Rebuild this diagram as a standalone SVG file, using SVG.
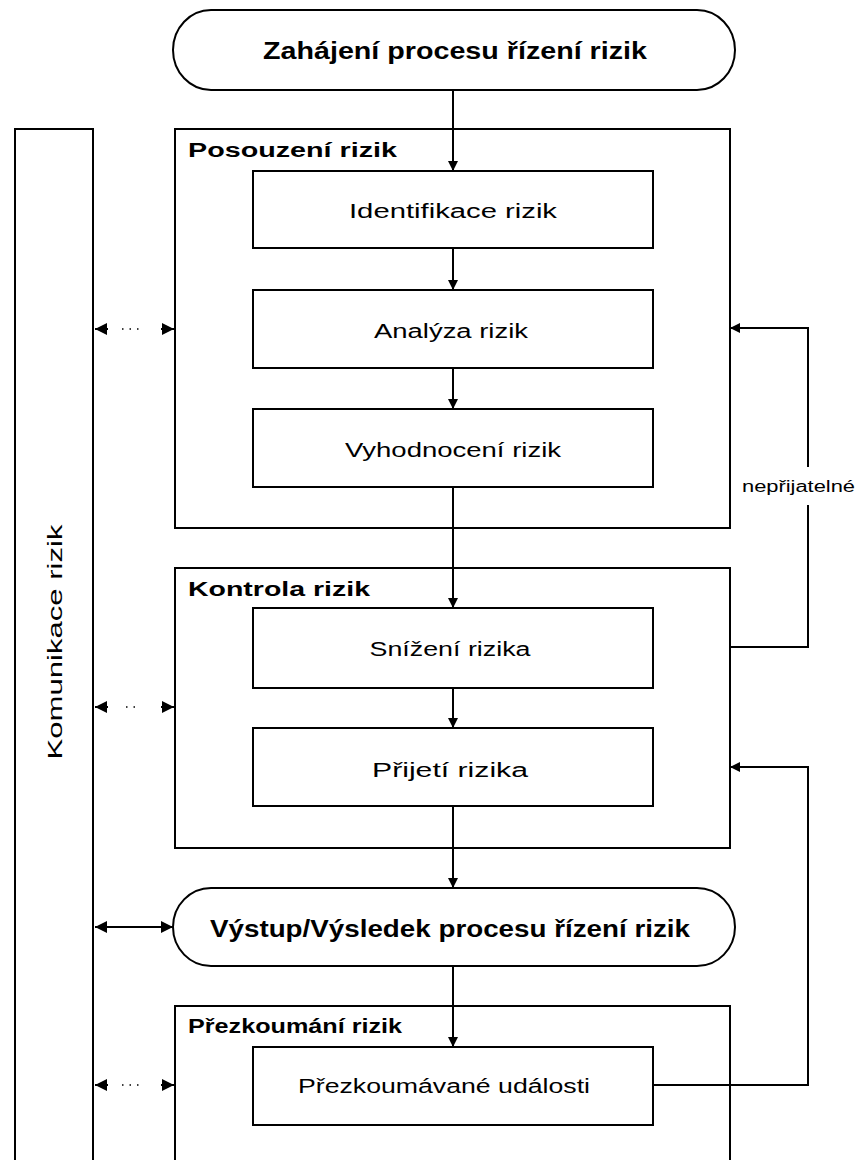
<svg xmlns="http://www.w3.org/2000/svg" width="857" height="1160" viewBox="0 0 857 1160">
  <style>
    .box { fill: #ffffff; stroke: #000000; stroke-width: 2; }
    .line { fill: none; stroke: #000000; stroke-width: 2; }
    .dots { fill: none; stroke: #000000; stroke-width: 1.5; stroke-dasharray: 1.5 6; }
    .t { font-family: "Liberation Sans", Arial, sans-serif; fill: #000000; }
    .title { font-size: 23px; font-weight: bold; text-anchor: middle; }
    .group { font-size: 20px; font-weight: bold; }
    .step { font-size: 20px; text-anchor: middle; }
    .small { font-size: 16px; }
  </style>
  <defs>
    <marker id="arrow" viewBox="0 0 10 10" refX="10" refY="5" markerWidth="10" markerHeight="10" markerUnits="userSpaceOnUse" orient="auto-start-reverse">
      <path d="M0,0 L10,5 L0,10 Z" fill="#000000"/>
    </marker>
    <marker id="arrowBig" viewBox="0 0 12 12" refX="12" refY="6" markerWidth="12" markerHeight="12" markerUnits="userSpaceOnUse" orient="auto-start-reverse">
      <path d="M0,0 L12,6 L0,12 Z" fill="#000000"/>
    </marker>
  </defs>
  <rect width="857" height="1160" fill="#ffffff"/>

  <!-- risk communication column -->
  <g id="komunikace">
    <rect class="box" x="15" y="129" width="78" height="1060"/>
    <text class="t step" transform="translate(62,642) rotate(-90)" textLength="235" lengthAdjust="spacingAndGlyphs">Komunikace rizik</text>
  </g>

  <!-- start terminator -->
  <g id="zahajeni">
    <rect class="box" x="173" y="10" width="562" height="80" rx="38" ry="40"/>
    <text class="t title" x="455" y="59" textLength="384" lengthAdjust="spacingAndGlyphs">Zahájení procesu řízení rizik</text>
  </g>

  <!-- risk assessment -->
  <g id="posouzeni">
    <rect class="box" x="175" y="129" width="555" height="399"/>
    <text class="t group" x="188" y="157" textLength="209" lengthAdjust="spacingAndGlyphs">Posouzení rizik</text>
  </g>
  <g id="identifikace">
    <rect class="box" x="253" y="171" width="400" height="77"/>
    <text class="t step" x="453" y="218" textLength="208" lengthAdjust="spacingAndGlyphs">Identifikace rizik</text>
  </g>
  <g id="analyza">
    <rect class="box" x="253" y="290" width="400" height="78"/>
    <text class="t step" x="451" y="338" textLength="154" lengthAdjust="spacingAndGlyphs">Analýza rizik</text>
  </g>
  <g id="vyhodnoceni">
    <rect class="box" x="253" y="409" width="400" height="78"/>
    <text class="t step" x="453" y="457" textLength="216" lengthAdjust="spacingAndGlyphs">Vyhodnocení rizik</text>
  </g>

  <!-- risk control -->
  <g id="kontrola">
    <rect class="box" x="175" y="568" width="555" height="280"/>
    <text class="t group" x="188" y="596" textLength="182" lengthAdjust="spacingAndGlyphs">Kontrola rizik</text>
  </g>
  <g id="snizeni">
    <rect class="box" x="253" y="608" width="400" height="80"/>
    <text class="t step" x="450" y="656" textLength="161" lengthAdjust="spacingAndGlyphs">Snížení rizika</text>
  </g>
  <g id="prijeti">
    <rect class="box" x="253" y="728" width="400" height="78"/>
    <text class="t step" x="450" y="777" textLength="156" lengthAdjust="spacingAndGlyphs">Přijetí rizika</text>
  </g>

  <!-- output terminator -->
  <g id="vystup">
    <rect class="box" x="173" y="888" width="562" height="78" rx="38" ry="39"/>
    <text class="t title" x="450" y="937" textLength="480" lengthAdjust="spacingAndGlyphs">Výstup/Výsledek procesu řízení rizik</text>
  </g>

  <!-- risk review -->
  <g id="prezkoumani">
    <rect class="box" x="175" y="1006" width="555" height="200"/>
    <text class="t group" x="188" y="1033" textLength="214" lengthAdjust="spacingAndGlyphs">Přezkoumání rizik</text>
  </g>
  <g id="udalosti">
    <rect class="box" x="253" y="1047" width="400" height="78"/>
    <text class="t step" x="444" y="1093" textLength="292" lengthAdjust="spacingAndGlyphs">Přezkoumávané události</text>
  </g>

  <!-- connectors -->
  <g id="connectors">
    <!-- main flow -->
    <line class="line" x1="453" y1="90" x2="453" y2="171" marker-end="url(#arrow)"/>
    <line class="line" x1="453" y1="248" x2="453" y2="290" marker-end="url(#arrow)"/>
    <line class="line" x1="453" y1="368" x2="453" y2="409" marker-end="url(#arrow)"/>
    <line class="line" x1="453" y1="487" x2="453" y2="608" marker-end="url(#arrow)"/>
    <line class="line" x1="453" y1="688" x2="453" y2="728" marker-end="url(#arrow)"/>
    <line class="line" x1="453" y1="806" x2="453" y2="888" marker-end="url(#arrow)"/>
    <line class="line" x1="453" y1="966" x2="453" y2="1047" marker-end="url(#arrow)"/>

    <!-- unacceptable feedback loop -->
    <polyline class="line" points="730,647 808,647 808,505"/>
    <polyline class="line" points="808,467 808,328 730,328" marker-end="url(#arrow)"/>
    <text class="t small" x="742" y="492" textLength="113" lengthAdjust="spacingAndGlyphs">nepřijatelné</text>

    <!-- review feedback loop -->
    <polyline class="line" points="653,1085 808,1085 808,767 730,767" marker-end="url(#arrow)"/>

    <!-- communication links -->
    <line class="dots" x1="122" y1="329" x2="140" y2="329"/>
    <line class="line" x1="108" y1="329" x2="95" y2="329" marker-end="url(#arrowBig)"/>
    <line class="line" x1="161" y1="329" x2="174" y2="329" marker-end="url(#arrowBig)"/>

    <line class="dots" x1="126" y1="707" x2="136" y2="707"/>
    <line class="line" x1="108" y1="707" x2="95" y2="707" marker-end="url(#arrowBig)"/>
    <line class="line" x1="161" y1="707" x2="174" y2="707" marker-end="url(#arrowBig)"/>

    <line class="line" x1="95" y1="927" x2="173" y2="927" marker-start="url(#arrowBig)" marker-end="url(#arrowBig)"/>

    <line class="dots" x1="122" y1="1085" x2="140" y2="1085"/>
    <line class="line" x1="108" y1="1085" x2="95" y2="1085" marker-end="url(#arrowBig)"/>
    <line class="line" x1="161" y1="1085" x2="174" y2="1085" marker-end="url(#arrowBig)"/>
  </g>
</svg>
